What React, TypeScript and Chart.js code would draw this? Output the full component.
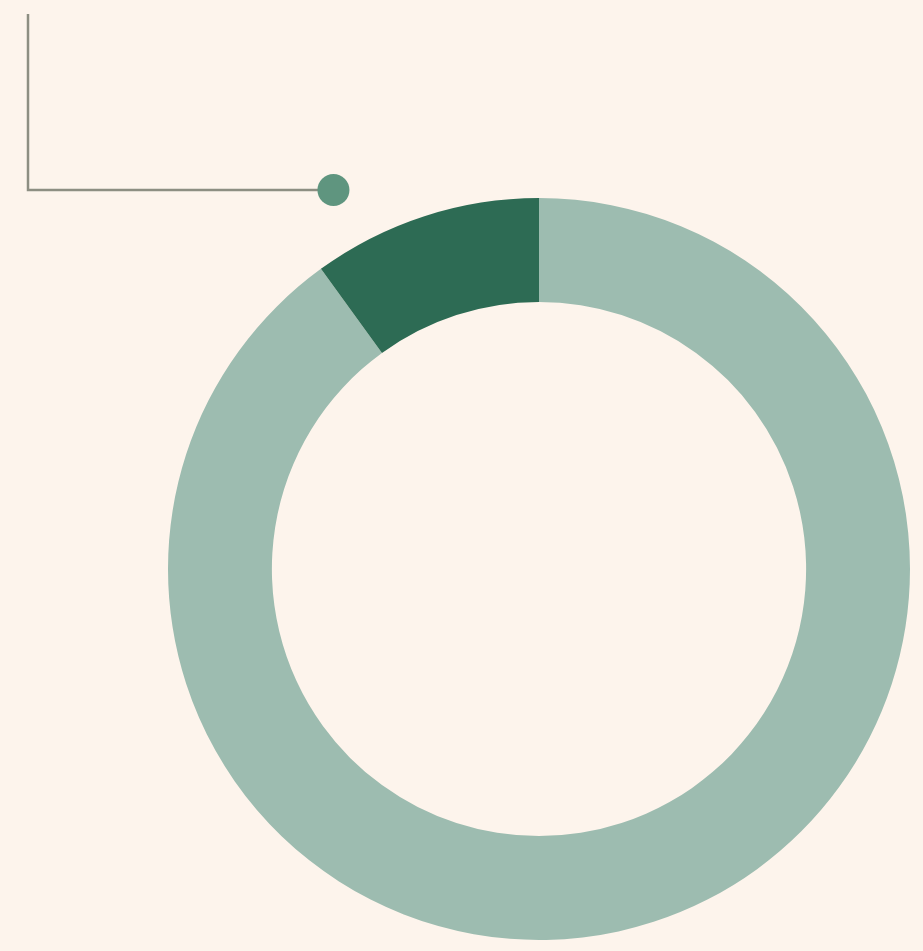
import React, { useEffect, useRef } from "react";
import { Chart, registerables } from "chart.js";

Chart.register(...registerables);

const categories = ["Other", "Highlighted share"];
const values = [90, 10];
const sliceColors = ["#9dbcb0", "#2d6b54"];

const BG = "#fdf4ec";

const leaderPlugin = {
  id: "leader",
  afterDatasetsDraw(chart: any) {
    const { ctx, chartArea } = chart;
    const meta = chart.getDatasetMeta(0);
    const arc = meta.data[1];
    if (!arc) return;
    const cx = arc.x;
    const cy = arc.y;
    const R = arc.outerRadius;
    // dot placed just outside the highlighted slice
    const ang = -Math.PI / 2 - 0.497;
    const dist = R * 1.162;
    const dx = cx + Math.cos(ang) * dist;
    const dy = cy + Math.sin(ang) * dist;
    const leftX = chartArea.left - 140;
    const topY = 14;
    ctx.save();
    ctx.strokeStyle = "#8d8e82";
    ctx.lineWidth = 2.5;
    ctx.beginPath();
    ctx.moveTo(leftX, topY);
    ctx.lineTo(leftX, dy);
    ctx.lineTo(dx, dy);
    ctx.stroke();
    ctx.fillStyle = "#5f957f";
    ctx.beginPath();
    ctx.arc(dx, dy, 16, 0, Math.PI * 2);
    ctx.fill();
    ctx.restore();
  },
};

export default function App() {
  const ref = useRef<HTMLCanvasElement>(null);
  useEffect(() => {
    if (!ref.current) return;
    const chart = new Chart(ref.current, {
      type: "doughnut",
      data: {
        labels: categories,
        datasets: [
          {
            data: values,
            backgroundColor: sliceColors,
            borderWidth: 0,
          },
        ],
      },
      options: {
        animation: false,
        responsive: false,
        maintainAspectRatio: false,
        cutout: "72%",
        layout: { padding: { left: 168, right: 13, top: 198, bottom: 11 } },
        plugins: {
          legend: { display: false },
          tooltip: { enabled: false },
        },
      },
      plugins: [leaderPlugin],
    });
    return () => chart.destroy();
  }, []);
  return (
    <div
      style={{
        position: "fixed",
        left: 0,
        top: 0,
        width: 923,
        height: 951,
        background: BG,
      }}
    >
      <canvas ref={ref} width={923} height={951} style={{ display: "block" }} />
    </div>
  );
}
